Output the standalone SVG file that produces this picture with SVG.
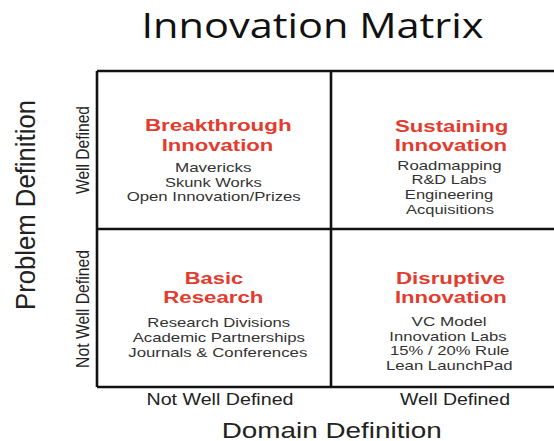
<svg xmlns="http://www.w3.org/2000/svg" width="554" height="441" viewBox="0 0 554 441">
<style>
.title{font-family:"Open Sans","Liberation Sans",sans-serif;font-size:34px;fill:#111;text-anchor:middle}
.axis{font-family:"Liberation Sans",Arial,sans-serif;fill:#222;text-anchor:middle}
.head{font-family:"Liberation Sans",Arial,sans-serif;font-weight:bold;font-size:16px;fill:#e33b2e;text-anchor:middle}
.item{font-family:"Liberation Sans",Arial,sans-serif;font-size:13px;fill:#333;text-anchor:middle}
.grid{stroke:#111;stroke-width:2.6;fill:none}
</style>
<rect width="554" height="441" fill="#fff"/>
<text class="title" x="312.5" y="38" textLength="342" lengthAdjust="spacingAndGlyphs">Innovation Matrix</text>
<g id="grid" class="grid">
<path d="M97 71 H556 M97 229 H556 M97 387 H556 M97 71 V387 M331 71 V387"/>
</g>
<g id="axis-labels">
<text class="axis" transform="translate(35,205) rotate(-90)" font-size="28" textLength="210" lengthAdjust="spacingAndGlyphs">Problem Definition</text>
<text class="axis" transform="translate(89,150) rotate(-90)" font-size="18" textLength="88" lengthAdjust="spacingAndGlyphs">Well Defined</text>
<text class="axis" transform="translate(89,309) rotate(-90)" font-size="18" textLength="118" lengthAdjust="spacingAndGlyphs">Not Well Defined</text>
<text class="axis" x="220" y="405" font-size="17" textLength="147" lengthAdjust="spacingAndGlyphs">Not Well Defined</text>
<text class="axis" x="455" y="405" font-size="17" textLength="110" lengthAdjust="spacingAndGlyphs">Well Defined</text>
<text class="axis" x="331.7" y="437.5" font-size="22" textLength="220" lengthAdjust="spacingAndGlyphs">Domain Definition</text>
</g>
<g id="breakthrough">
<text class="head" x="218.3" y="131" textLength="146.7" lengthAdjust="spacingAndGlyphs">Breakthrough</text>
<text class="head" x="217.5" y="150.7" textLength="111.7" lengthAdjust="spacingAndGlyphs">Innovation</text>
<text class="item" x="213.3" y="171.7" textLength="76.7" lengthAdjust="spacingAndGlyphs">Mavericks</text>
<text class="item" x="213.3" y="186.5" textLength="96.7" lengthAdjust="spacingAndGlyphs">Skunk Works</text>
<text class="item" x="213.7" y="201.3" textLength="174" lengthAdjust="spacingAndGlyphs">Open Innovation/Prizes</text>
</g>
<g id="sustaining">
<text class="head" x="451.7" y="131.7" textLength="113.3" lengthAdjust="spacingAndGlyphs">Sustaining</text>
<text class="head" x="451" y="151" textLength="112.3" lengthAdjust="spacingAndGlyphs">Innovation</text>
<text class="item" x="449.5" y="170" textLength="104.3" lengthAdjust="spacingAndGlyphs">Roadmapping</text>
<text class="item" x="449" y="184.3" textLength="75" lengthAdjust="spacingAndGlyphs">R&amp;D Labs</text>
<text class="item" x="449" y="199" textLength="88.3" lengthAdjust="spacingAndGlyphs">Engineering</text>
<text class="item" x="450" y="214" textLength="88" lengthAdjust="spacingAndGlyphs">Acquisitions</text>
</g>
<g id="basic">
<text class="head" x="214" y="284" textLength="58.3" lengthAdjust="spacingAndGlyphs">Basic</text>
<text class="head" x="213.3" y="303.3" textLength="100" lengthAdjust="spacingAndGlyphs">Research</text>
<text class="item" x="218.7" y="326.7" textLength="142.7" lengthAdjust="spacingAndGlyphs">Research Divisions</text>
<text class="item" x="218.8" y="341.7" textLength="172.3" lengthAdjust="spacingAndGlyphs">Academic Partnerships</text>
<text class="item" x="217.8" y="356.7" textLength="179" lengthAdjust="spacingAndGlyphs">Journals &amp; Conferences</text>
</g>
<g id="disruptive">
<text class="head" x="450.5" y="284" textLength="109" lengthAdjust="spacingAndGlyphs">Disruptive</text>
<text class="head" x="450.8" y="303.3" textLength="111.7" lengthAdjust="spacingAndGlyphs">Innovation</text>
<text class="item" x="449" y="326" textLength="75" lengthAdjust="spacingAndGlyphs">VC Model</text>
<text class="item" x="448" y="340.7" textLength="117.3" lengthAdjust="spacingAndGlyphs">Innovation Labs</text>
<text class="item" x="449.7" y="355" textLength="119.3" lengthAdjust="spacingAndGlyphs">15% / 20% Rule</text>
<text class="item" x="449.3" y="370" textLength="126.7" lengthAdjust="spacingAndGlyphs">Lean LaunchPad</text>
</g>
</svg>
